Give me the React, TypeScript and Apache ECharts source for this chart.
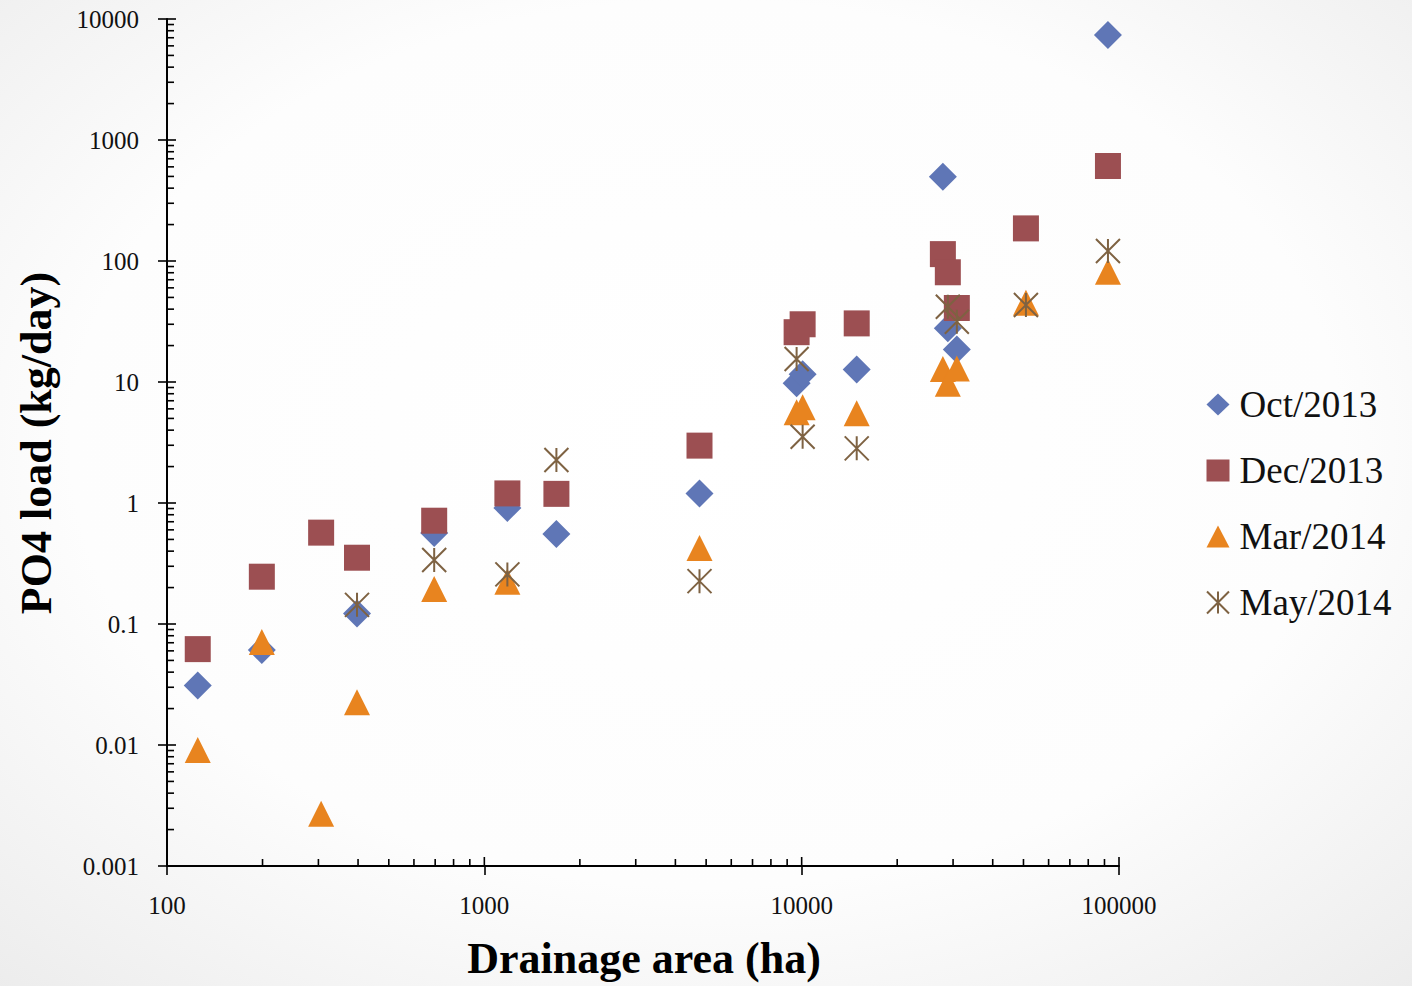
import React, { useEffect, useRef } from 'react';
import * as echarts from 'echarts';

// Drainage area (ha) of each sampling site
const drainageArea = [125, 199, 306, 397, 695, 1182, 1687, 4765, 9640, 10070, 14910, 27860, 28880, 30830, 50900, 92300];
// PO4 load (kg/day) per campaign, null = no value
const oct2013 = [0.031, 0.061, null, 0.122, 0.565, 0.91, 0.555, 1.2, 9.76, 11.6, 12.7, 497, 27.8, 18.6, null, 7380];
const dec2013 = [0.062, 0.246, 0.569, 0.353, 0.714, 1.2, 1.19, 2.98, 25.8, 30.0, 30.5, 114, 80.7, 40.9, 186, 610];
const mar2014 = [0.0091, 0.071, 0.0027, 0.0226, 0.195, 0.223, null, 0.425, 5.62, 6.18, 5.51, 12.8, 9.68, 12.9, 45.2, 81.6];
const may2014 = [null, null, null, 0.144, 0.338, 0.257, 2.27, 0.226, 15.5, 3.53, 2.83, null, 41.9, 31.5, 43.3, 121];

const seriesNames = ['Oct/2013', 'Dec/2013', 'Mar/2014', 'May/2014'];

// Axis decades and minor-tick multipliers
const xDecades = [100, 1000, 10000, 100000];
const yDecades = [0.001, 0.01, 0.1, 1, 10, 100, 1000, 10000];
const minorMultipliers = [2, 3, 4, 5, 6, 7, 8, 9];

const FONT = "'Liberation Serif', 'Times New Roman', serif";
const STAR = 'path://M0,0L20,20M20,0L0,20M10,0L10,20';

function pairs(vals: (number | null)[]) {
  return drainageArea
    .map((x, i) => [x, vals[i]])
    .filter((d) => d[1] !== null && d[1] !== undefined);
}

function fmt(v: number) {
  return String(Number(Number(v).toPrecision(6)));
}

export default function App() {
  const ref = useRef<HTMLDivElement>(null);
  useEffect(() => {
    if (!ref.current) return;
    const chart = echarts.init(ref.current, undefined, { renderer: 'svg' });

    const xMin = xDecades[0];
    const yMin = yDecades[0];
    const xTicks: number[][] = [];
    xDecades.forEach((d, i) => {
      xTicks.push([d, yMin, 9]);
      if (i < xDecades.length - 1) minorMultipliers.forEach((m) => xTicks.push([d * m, yMin, 7]));
    });
    const yTicks: number[][] = [];
    yDecades.forEach((d, i) => {
      yTicks.push([xMin, d, 9]);
      if (i < yDecades.length - 1) minorMultipliers.forEach((m) => yTicks.push([xMin, Number((d * m).toPrecision(6)), 7]));
    });

    const tickStyle = { stroke: '#000', lineWidth: 1.6 };

    chart.setOption({
      animation: false,
      backgroundColor: new echarts.graphic.RadialGradient(0.5, 0.45, 0.75, [
        { offset: 0, color: '#ffffff' },
        { offset: 0.6, color: '#fdfdfd' },
        { offset: 1, color: '#ececec' },
      ]),
      grid: { left: 167, top: 19, right: 293, bottom: 120, containLabel: false },
      xAxis: {
        type: 'log',
        logBase: 10,
        min: 100,
        max: 100000,
        splitNumber: 3,
        axisLine: { show: true, lineStyle: { color: '#000', width: 2 } },
        axisTick: { show: true, inside: false, length: 9, lineStyle: { color: '#000', width: 1.6 } },
        minorTick: { show: false },
        splitLine: { show: false },
        axisLabel: { color: '#111', fontFamily: FONT, fontSize: 25, margin: 27, formatter: fmt },
      },
      yAxis: {
        type: 'log',
        logBase: 10,
        min: 0.001,
        max: 10000,
        splitNumber: 7,
        axisLine: { show: true, lineStyle: { color: '#000', width: 2 } },
        axisTick: { show: true, inside: false, length: 9, lineStyle: { color: '#000', width: 1.6 } },
        minorTick: { show: false },
        splitLine: { show: false },
        axisLabel: { color: '#111', fontFamily: FONT, fontSize: 25, margin: 28, formatter: fmt },
      },
      legend: {
        orient: 'vertical',
        left: 1206,
        top: 386,
        padding: 0,
        itemWidth: 23,
        itemHeight: 22,
        itemGap: 29,
        data: seriesNames,
        textStyle: { fontFamily: FONT, fontSize: 37, color: '#111', padding: [0, 0, 0, 5] },
      },
      graphic: [
        {
          type: 'text',
          x: 644,
          y: 958,
          style: {
            text: 'Drainage area (ha)',
            font: `bold 44px ${FONT}`,
            fill: '#000',
            align: 'center',
            verticalAlign: 'middle',
          },
        },
        {
          type: 'text',
          x: 36,
          y: 443,
          rotation: Math.PI / 2,
          style: {
            text: 'PO4 load (kg/day)',
            font: `bold 44px ${FONT}`,
            fill: '#000',
            align: 'center',
            verticalAlign: 'middle',
          },
        },
      ],
      series: [
        {
          type: 'custom',
          name: 'xticks',
          silent: true,
          data: xTicks,
          renderItem: (params: any, api: any) => {
            const p = api.coord([api.value(0), api.value(1)]);
            const len = api.value(2);
            return { type: 'line', shape: { x1: p[0], y1: p[1], x2: p[0], y2: p[1] - len }, style: tickStyle };
          },
          z: 1,
        },
        {
          type: 'custom',
          name: 'yticks',
          silent: true,
          data: yTicks,
          renderItem: (params: any, api: any) => {
            const p = api.coord([api.value(0), api.value(1)]);
            const len = api.value(2);
            return { type: 'line', shape: { x1: p[0], y1: p[1], x2: p[0] + len, y2: p[1] }, style: tickStyle };
          },
          z: 1,
        },
        {
          name: seriesNames[0],
          type: 'scatter',
          symbol: 'diamond',
          symbolSize: 28,
          itemStyle: { color: '#5F76B6', opacity: 1 },
          data: pairs(oct2013),
          z: 2,
        },
        {
          name: seriesNames[1],
          type: 'scatter',
          symbol: 'rect',
          symbolSize: 26,
          itemStyle: { color: '#9C4F52', opacity: 1 },
          data: pairs(dec2013),
          z: 3,
        },
        {
          name: seriesNames[2],
          type: 'scatter',
          symbol: 'triangle',
          symbolSize: 26,
          itemStyle: { color: '#E8841F', opacity: 1 },
          data: pairs(mar2014),
          z: 4,
        },
        {
          name: seriesNames[3],
          type: 'scatter',
          symbol: STAR,
          symbolSize: 24,
          itemStyle: { color: '#7E6242', borderColor: '#7E6242', borderWidth: 2, opacity: 1 },
          data: pairs(may2014),
          z: 5,
        },
      ],
    });
    return () => chart.dispose();
  }, []);
  return <div ref={ref} style={{ position: 'absolute', left: 0, top: 0, width: 1412, height: 986 }} />;
}
